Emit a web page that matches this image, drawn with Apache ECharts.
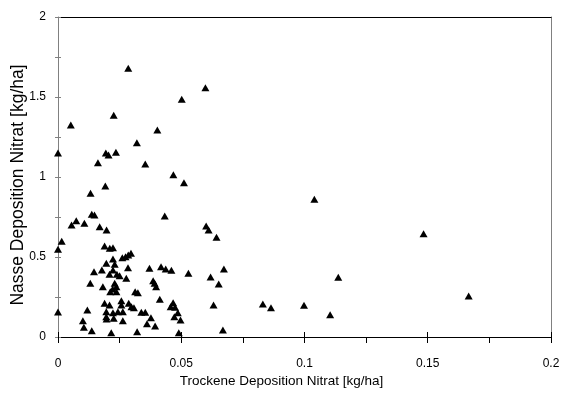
<!DOCTYPE html>
<html>
<head>
<meta charset="utf-8">
<script src="https://cdn.jsdelivr.net/npm/echarts@6/dist/echarts.min.js"></script>
<style>html,body{margin:0;padding:0;background:#fff}#c{width:562px;height:394px}</style>
</head>
<body>
<div id="c"></div>
<script>
// Trockene Deposition Nitrat [kg/ha]
const dryNitrate = [
  0.0285,0.0598,0.0502,0.0226,0.0052,0.0403,0.0320,0.0000,0.0194,0.0205,
  0.0235,0.0162,0.0354,0.0468,0.0511,0.0192,0.0132,0.0433,0.0137,0.0148,
  0.0074,0.0055,0.0107,0.0169,0.0197,0.0601,0.0611,0.0643,0.0015,0.0000,
  0.0189,0.0210,0.0223,0.0261,0.0274,0.0285,0.0296,0.0223,0.0196,0.0230,
  0.0146,0.0178,0.0223,0.0284,0.0209,0.0239,0.0250,0.0277,0.0131,0.0182,
  0.0230,0.0237,0.0212,0.0237,0.0222,0.0313,0.0324,0.0371,0.0418,0.0437,
  0.0460,0.0529,0.0673,0.0619,0.0652,0.0386,0.0392,0.0398,0.0413,0.0467,
  0.0457,0.0475,0.0486,0.0472,0.0497,0.0490,0.0631,0.0669,0.0189,0.0209,
  0.0257,0.0257,0.0287,0.0298,0.0308,0.0119,0.0196,0.0223,0.0243,0.0263,
  0.0196,0.0226,0.0263,0.0338,0.0354,0.0377,0.0361,0.0394,0.0101,0.0105,
  0.0137,0.0216,0.0321,0.0000,0.0197,
  0.1040,0.1483,0.1137,0.1666,0.0831,0.0864,0.0998,0.1104
];
// Nasse Deposition Nitrat [kg/ha]
const wetNitrate = [
  1.679,1.558,1.486,1.386,1.325,1.294,1.214,1.150,1.150,1.138,
  1.154,1.089,1.081,1.014,0.964,0.944,0.898,0.756,0.767,0.763,
  0.727,0.700,0.711,0.689,0.669,0.694,0.669,0.623,0.598,0.548,
  0.569,0.554,0.558,0.496,0.502,0.512,0.523,0.487,0.461,0.454,
  0.408,0.419,0.419,0.433,0.392,0.392,0.383,0.367,0.336,0.314,
  0.336,0.314,0.283,0.283,0.300,0.283,0.277,0.429,0.439,0.425,
  0.417,0.398,0.425,0.375,0.331,0.352,0.336,0.314,0.236,0.214,
  0.189,0.186,0.152,0.127,0.106,0.027,0.200,0.044,0.211,0.200,
  0.227,0.200,0.211,0.189,0.183,0.169,0.158,0.152,0.158,0.158,
  0.127,0.117,0.102,0.154,0.154,0.121,0.083,0.069,0.102,0.061,
  0.039,0.027,0.033,0.156,0.112,
  0.861,0.646,0.373,0.256,0.206,0.183,0.198,0.139
];
const xTickStep = 0.025, xLabelStep = 0.05, xMax = 0.2;
const yTickStep = 0.25, yLabelStep = 0.5, yMax = 2;
const xTitle = 'Trockene Deposition Nitrat [kg/ha]';
const yTitle = 'Nasse Deposition Nitrat [kg/ha]';

const points = dryNitrate.map((x, i) => [x, wetNitrate[i]]);
const onStep = (v, s) => Math.abs(Math.round(v / s) * s - v) < 1e-9;
const fmt = s => v => onStep(v, s) ? String(+(+v).toFixed(3)) : '';
const FONT = '"Liberation Sans", Arial, sans-serif';

const chart = echarts.init(document.getElementById('c'), null, {renderer: 'canvas'});
chart.setOption({
  animation: false,
  backgroundColor: '#ffffff',
  grid: {left: 58, right: 11, top: 17, bottom: 57, containLabel: false, outerBoundsMode: 'none'},
  xAxis: [
    {type: 'value', min: 0, max: xMax, interval: xTickStep, position: 'bottom',
     name: xTitle, nameLocation: 'middle', nameGap: 37, nameMoveOverlap: false,
     nameTextStyle: {color: '#000', fontSize: 13.5, fontFamily: FONT, padding: [0, 46, 0, 0]},
     axisLine: {show: true, onZero: false, lineStyle: {color: '#000', width: 1}},
     axisTick: {show: true, length: 6, lineStyle: {color: '#000'}},
     axisLabel: {formatter: fmt(xLabelStep), color: '#000', fontSize: 12, fontFamily: FONT, margin: 21, showMinLabel: true, showMaxLabel: true},
     splitLine: {show: false}},
    {type: 'value', min: 0, max: xMax, interval: xLabelStep, position: 'bottom',
     axisLine: {show: false}, axisTick: {show: true, inside: true, length: 5, lineStyle: {color: '#000'}},
     axisLabel: {show: false}, splitLine: {show: false}},
    {type: 'value', min: 0, max: xMax, position: 'top',
     axisLine: {show: true, onZero: false, lineStyle: {color: '#000', width: 1}},
     axisTick: {show: false}, axisLabel: {show: false}, splitLine: {show: false}}
  ],
  yAxis: [
    {type: 'value', min: 0, max: yMax, interval: yTickStep, position: 'left',
     name: yTitle, nameLocation: 'middle', nameGap: 31, nameRotate: 90, nameMoveOverlap: false,
     nameTextStyle: {color: '#000', fontSize: 17.5, fontFamily: FONT, padding: [0, 16, 0, 0]},
     axisLine: {show: true, onZero: false, lineStyle: {color: '#808080', width: 1}},
     axisTick: {show: true, length: 3, lineStyle: {color: '#808080'}},
     axisLabel: {formatter: fmt(yLabelStep), color: '#000', fontSize: 12, fontFamily: FONT, margin: 12},
     splitLine: {show: false}},
    {type: 'value', min: 0, max: yMax, interval: yTickStep, position: 'left',
     axisLine: {show: false}, axisTick: {show: true, inside: true, length: 3, lineStyle: {color: '#808080'}},
     axisLabel: {show: false}, splitLine: {show: false}},
    {type: 'value', min: 0, max: yMax, position: 'right',
     axisLine: {show: true, onZero: false, lineStyle: {color: '#808080', width: 1}},
     axisTick: {show: false}, axisLabel: {show: false}, splitLine: {show: false}}
  ],
  series: [{
    type: 'scatter',
    xAxisIndex: 0, yAxisIndex: 0,
    data: points,
    symbol: 'triangle',
    symbolSize: [8, 7],
    itemStyle: {color: '#000', opacity: 1},
    emphasis: {disabled: true}
  }]
});
</script>
</body>
</html>
